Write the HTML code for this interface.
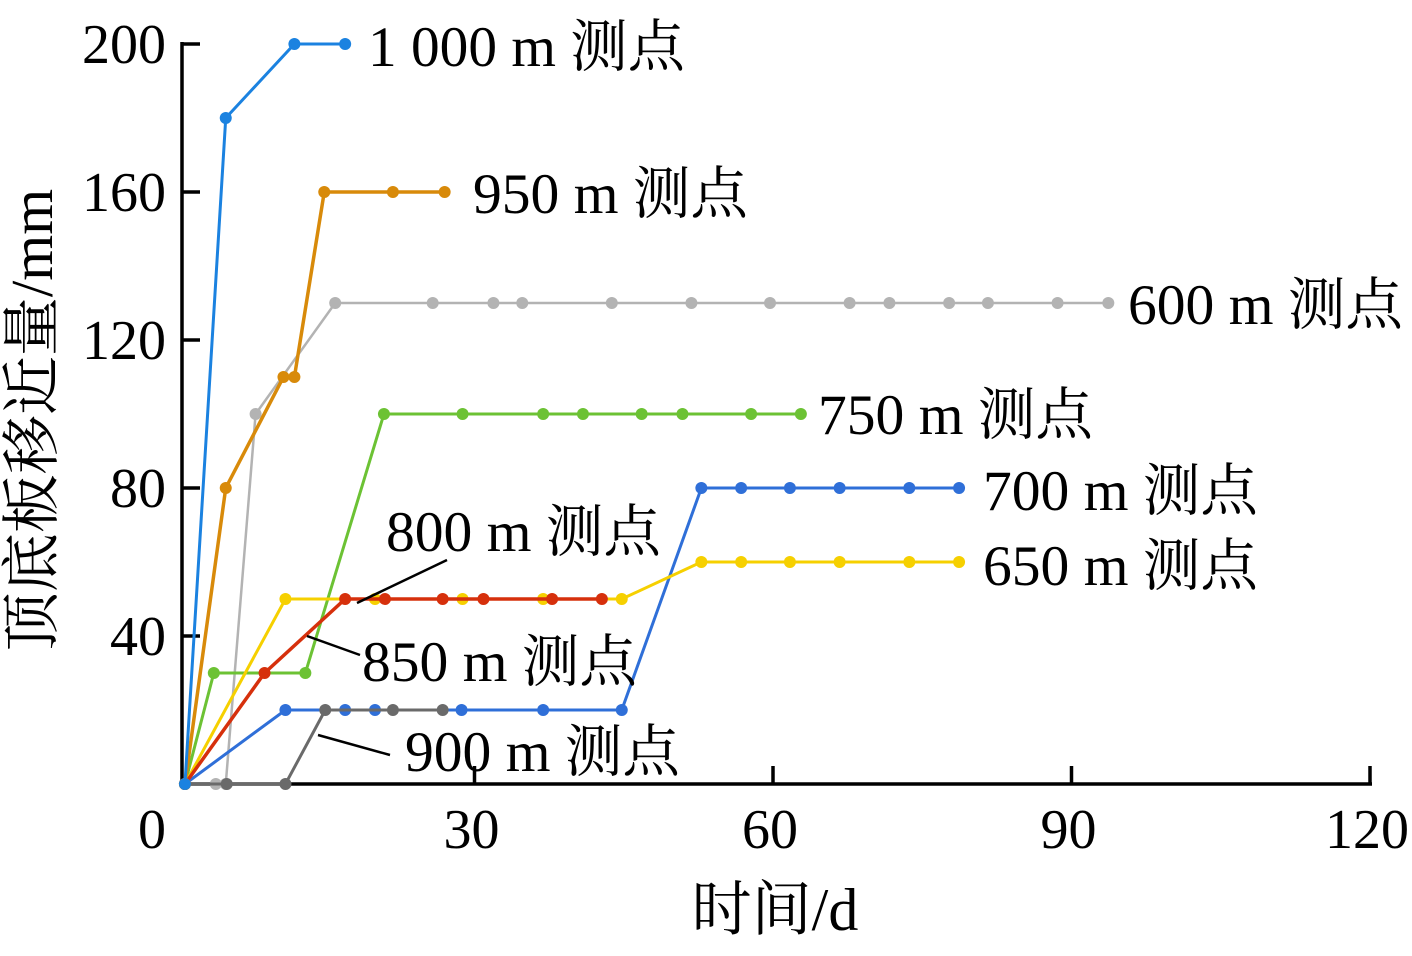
<!DOCTYPE html>
<html><head><meta charset="utf-8"><style>
html,body{margin:0;padding:0;background:#fff;}
svg text{font-family:"Liberation Serif","Noto Serif CJK SC",serif;fill:#000;}
</style></head><body>
<svg id="chart" width="1412" height="951" viewBox="0 0 1412 951" xmlns="http://www.w3.org/2000/svg"></svg>
<script>
const xTicks=[0,30,60,90,120];
const yTicks=[40,80,120,160,200];
const seriesNames=["600 m 测点","650 m 测点","700 m 测点","750 m 测点","800 m 测点","850 m 测点","900 m 测点","950 m 测点","1 000 m 测点"];
const d600=[0.9,4,5,8,16,25.8,31.9,34.8,43.8,51.8,59.7,67.7,71.7,77.7,81.6,88.6,93.7];
const v600=[0,0,0,100,130,130,130,130,130,130,130,130,130,130,130,130,130];
const d650=[0.9,11,20,28.8,36.9,44.8,52.8,56.8,61.7,66.7,73.7,78.7];
const v650=[0,50,50,50,50,50,60,60,60,60,60,60];
const d700=[0.9,11,17,20,28.7,36.9,44.8,52.8,56.8,61.7,66.7,73.7,78.7];
const v700=[0,20,20,20,20,20,20,80,80,80,80,80,80];
const d750=[0.9,3.8,13,20.9,28.8,36.9,40.9,46.8,50.9,57.8,62.8];
const v750=[0,30,30,100,100,100,100,100,100,100,100];
const d800=[0.9,8.9,17,21,26.8,30.9,37.8,42.8];
const v800=[0,30,50,50,50,50,50,50];
const d900=[0.9,5.1,11,15,21.8,26.8];
const v900=[0,0,0,20,20,20];
const d950=[0.9,5,10.8,11.9,14.9,21.8,27];
const v950=[0,80,110,110,160,160,160];
const d1000=[0.9,5,11.9,17];
const v1000=[0,180,200,200];

const svg=document.getElementById('chart');
const NS='http://www.w3.org/2000/svg';
const X=d=>176+d*9.95, Y=v=>784-v*3.7;
function mk(t,a,p){const e=document.createElementNS(NS,t);for(const k in a)e.setAttribute(k,a[k]);(p||svg).appendChild(e);return e;}

let ax=mk('line',{x1:182,y1:784,x2:1372,y2:784,stroke:'#000','stroke-width':3.5});


ax=mk('line',{x1:182,y1:42,x2:182,y2:786,stroke:'#000','stroke-width':3.5});


xTicks.forEach(t=>{
  if(t>0){const l=mk('line',{x1:X(t),y1:784,x2:X(t),y2:766,stroke:'#000','stroke-width':3.5});
  
  }
  const tx=mk('text',{x:t===0?152:X(t)-3,y:848,'font-size':56,'text-anchor':'middle'});tx.textContent=t;
  
  
});
yTicks.forEach(t=>{
  const l=mk('line',{x1:182,y1:Y(t),x2:200,y2:Y(t),stroke:'#000','stroke-width':3.5});
  
  
  const tx=mk('text',{x:166,y:Y(t)+19,'font-size':56,'text-anchor':'end'});tx.textContent=t;
  
  
});
let tt=mk('text',{x:775,y:930,'font-size':60,'text-anchor':'middle'});tt.textContent='时间/d';


tt=mk('text',{x:0,y:0,'font-size':59,'text-anchor':'middle',transform:'translate(52,420) rotate(-90)'});tt.textContent='顶底板移近量/mm';



const series=[
 [d600,v600,'#b3b3b3',2.5],[d750,v750,'#6cc234',3],[d700,v700,'#2f6fd8',3],[d650,v650,'#f6d000',3],
 [d900,v900,'#6a6a6a',3],[d800,v800,'#d6300c',3.5],[d950,v950,'#d88a0a',3.5],[d1000,v1000,'#1b82e0',3]
];
const sn=['600','750','700','650','900','800','950','1000'];
series.forEach((s,i)=>{
  const g=mk('g',{});
  
  
  const pts=s[0].map((d,j)=>X(d)+','+Y(s[1][j])).join(' ');
  const pl=mk('polyline',{points:pts,fill:'none',stroke:s[2],'stroke-width':s[3]},g);
  
  
  s[0].forEach((d,j)=>{
    const c=mk('circle',{cx:X(d),cy:Y(s[1][j]),r:6,fill:s[2]},g);
    
    
  });
});
[[357,603,447,560],[307,636,360,655],[318,735,390,755]].forEach(p=>{
  const l=mk('line',{x1:p[0],y1:p[1],x2:p[2],y2:p[3],stroke:'#000','stroke-width':2.5});
  
  
});
const labPos=[[1128,324],[983,585],[983,510],[818,434],[386,551],[362,681],[405,771],[473,213],[368,66]];
seriesNames.forEach((n,i)=>{
  const t=mk('text',{x:labPos[i][0],y:labPos[i][1],'font-size':57,textLength:(i===8?317:275),lengthAdjust:'spacingAndGlyphs'});t.textContent=n;
  
  
});
</script>
</body></html>
